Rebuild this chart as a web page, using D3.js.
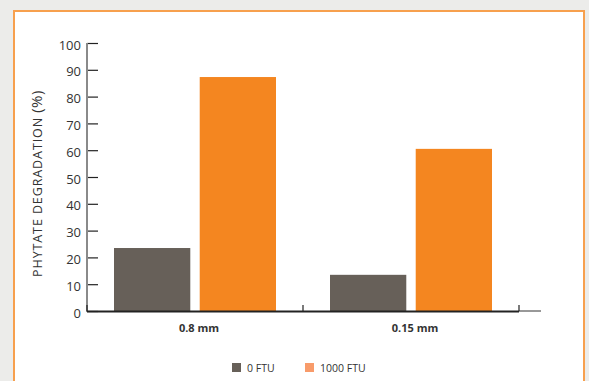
<!DOCTYPE html>
<html><head><meta charset="utf-8">
<script src="https://cdn.jsdelivr.net/npm/d3@7"></script>
<style>
html,body{margin:0;padding:0;background:#ececea;}
svg{display:block;}
text{font-family:"Open Sans","Noto Sans",sans-serif;}
</style></head>
<body>
<svg id="c" width="589" height="381"></svg>
<script>
const categories = ["0.8 mm", "0.15 mm"];
const seriesNames = ["0 FTU", "1000 FTU"];
const ftu0 = [23.5, 13.5];
const ftu1000 = [87.3, 60.5];
const yTicks = [0,10,20,30,40,50,60,70,80,90,100];

const colors = {"0 FTU":"#676059","1000 FTU":"#f48620"};
const legendColors = {"0 FTU":"#676059","1000 FTU":"#f89b6a"};

const svg = d3.select("#c");
// panel
svg.append("rect").attr("x",14).attr("y",11).attr("width",570).attr("height",380)
  .attr("fill","#fff").attr("stroke","#f7a04e").attr("stroke-width",2);

const x0 = d3.scaleBand().domain(categories).range([87,519]).paddingInner(0).paddingOuter(0);
const x1 = d3.scaleBand().domain(seriesNames).range([27, 216-27]).paddingInner(0.11);
const y = d3.scaleLinear().domain([0,100]).range([311,43]);

const data = categories.map((c,i)=>({cat:c, vals:[{s:"0 FTU",v:ftu0[i]},{s:"1000 FTU",v:ftu1000[i]}]}));

// bars
const g = svg.append("g");
g.selectAll("g.grp").data(data).join("g").attr("transform",d=>`translate(${x0(d.cat)},0)`)
  .selectAll("rect").data(d=>d.vals).join("rect")
  .attr("x",d=>x1(d.s)).attr("width",x1.bandwidth())
  .attr("y",d=>y(d.v)).attr("height",d=>y(0)-y(d.v))
  .attr("fill",d=>colors[d.s]);

// y axis
const yAxis = svg.append("g").attr("transform","translate(87,0)")
  .call(d3.axisRight(y).tickValues(yTicks).tickSize(11).tickFormat(""));
yAxis.select(".domain").remove();
yAxis.selectAll(".tick line").attr("stroke","#222").attr("stroke-width",1.2);
svg.append("line").attr("x1",87).attr("x2",87).attr("y1",43).attr("y2",312)
  .attr("stroke","#8a8a8a").attr("stroke-width",2);
svg.append("g").selectAll("text").data(yTicks).join("text")
  .attr("x",81).attr("y",d=>y(d)+2).attr("dy","0.36em").attr("text-anchor","end")
  .attr("font-size",13).attr("fill","#333").text(d=>d);

// x axis
svg.append("line").attr("x1",519).attr("x2",541).attr("y1",311).attr("y2",311)
  .attr("stroke","#333").attr("stroke-width",1);
svg.append("line").attr("x1",87).attr("x2",519).attr("y1",311.5).attr("y2",311.5)
  .attr("stroke","#222").attr("stroke-width",2);
const bounds = [87, x0(categories[1]), 519];
svg.append("g").selectAll("line").data(bounds).join("line")
  .attr("x1",d=>d).attr("x2",d=>d).attr("y1",305).attr("y2",311)
  .attr("stroke","#222").attr("stroke-width",1.2);
svg.append("g").selectAll("text").data(categories).join("text")
  .attr("x",d=>x0(d)+x0.bandwidth()/2+4).attr("y",332).attr("text-anchor","middle")
  .attr("font-size",11).attr("font-weight","bold").attr("fill","#333").text(d=>d);

// y title
const yt = svg.append("text").attr("transform","translate(42,183.5) rotate(-90)")
  .attr("text-anchor","middle").attr("font-size",12.5).attr("fill","#333")
  .attr("letter-spacing","0.9");
yt.append("tspan").text("PHYTATE DEGRADATION ");
yt.append("tspan").attr("font-size",15).attr("letter-spacing","0.5").text("(%)");

// legend
const legX = [232, 305];
const lg = svg.append("g").selectAll("g").data(seriesNames).join("g")
  .attr("transform",(d,i)=>`translate(${legX[i]},363)`);
lg.append("rect").attr("width",9).attr("height",9).attr("fill",d=>legendColors[d]);
lg.append("text").attr("x",15).attr("y",9).attr("font-size",10.5).attr("fill","#333").text(d=>d);
</script>
</body></html>
